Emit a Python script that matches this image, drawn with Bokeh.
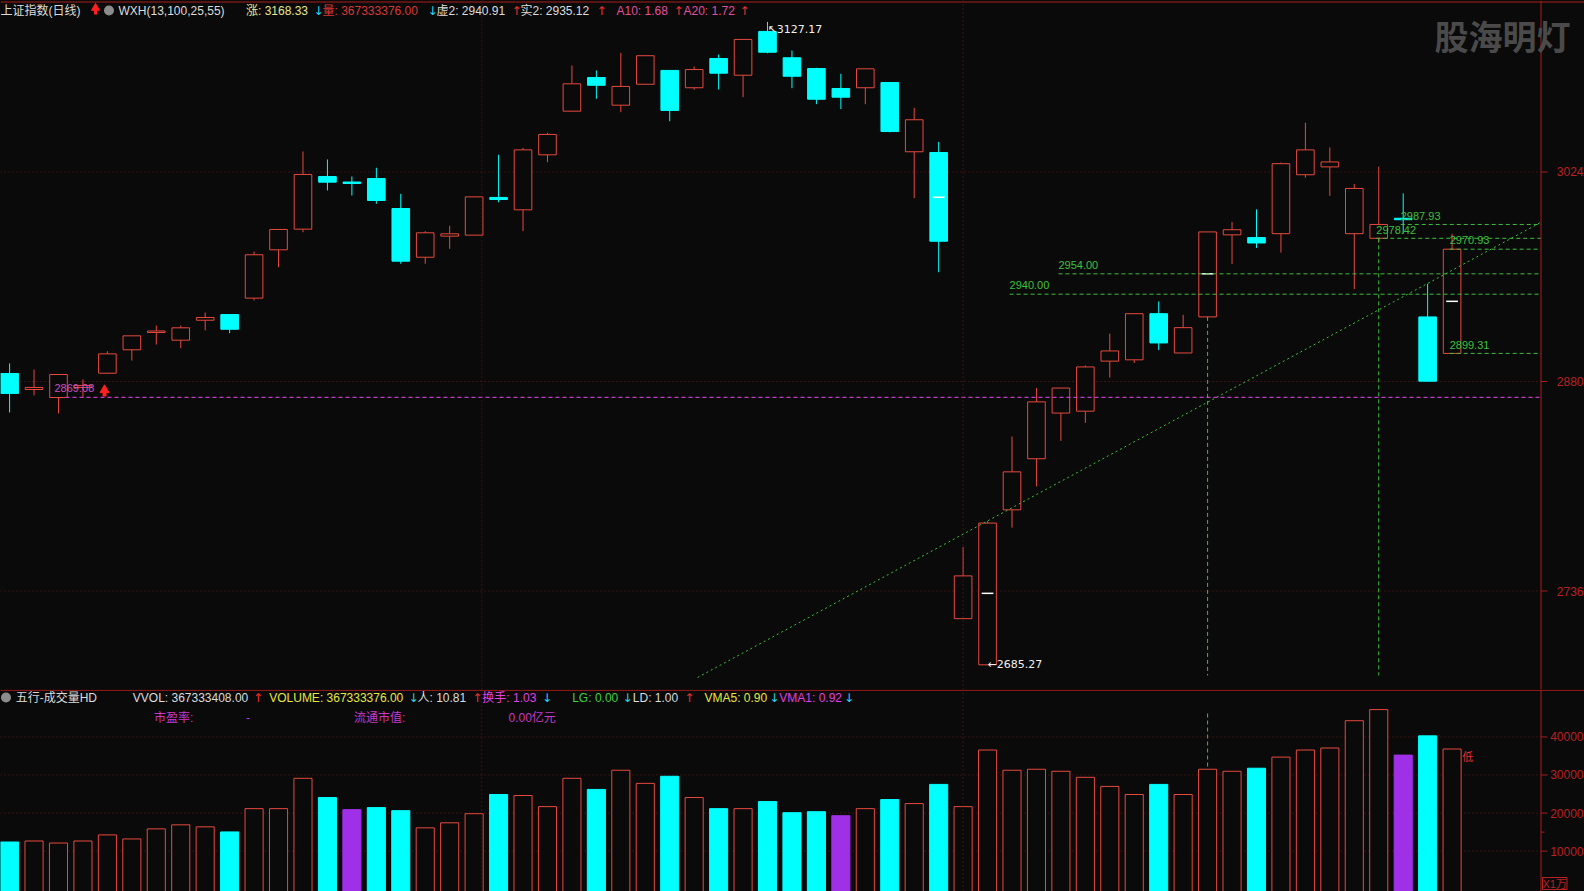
import numpy as np
from bokeh.plotting import figure
from bokeh.layouts import column
from bokeh.models import ColumnDataSource, Span, Label, Range1d
from bokeh.embed import file_html
from bokeh.resources import INLINE

# ---------------- data ----------------
opens = [2885.5, 2874.5, 2869.0, 2875.9, 2885.7, 2901.8, 2913.7, 2908.4, 2922.1, 2926.0,
         2937.3, 2970.5, 2984.7, 3020.9, 3016.8, 3019.5, 2998.9, 2965.4, 2979.9, 2980.6,
         3006.5, 2998.0, 3035.8, 3065.8, 3088.9, 3069.9, 3084.3, 3093.8, 3081.9, 3102.0,
         3090.5, 3120.6, 3102.5, 3095.1, 3081.4, 3081.9, 3085.5, 3037.9, 3037.4, 2717.0,
         2685.27, 2791.8, 2826.9, 2858.3, 2859.6, 2894.0, 2894.9, 2926.6, 2899.6, 2924.4,
         2980.8, 2978.9, 2981.6, 3022.1, 3027.5, 2981.6, 2978.42, 2991.7, 2924.4, 2899.31]
closes = [2871.8, 2875.9, 2884.8, 2877.3, 2899.0, 2911.4, 2914.4, 2916.9, 2924.0, 2915.9,
          2967.1, 2984.5, 3022.3, 3017.0, 3016.1, 3004.4, 2962.7, 2982.2, 2981.5, 3006.9,
          3005.1, 3039.2, 3049.8, 3084.6, 3083.6, 3082.8, 3103.9, 3066.3, 3094.4, 3091.9,
          3115.1, 3106.3, 3089.8, 3074.0, 3075.4, 3094.9, 3051.8, 3059.9, 2976.4, 2746.4,
          2782.7, 2817.9, 2866.0, 2875.5, 2890.0, 2901.0, 2926.6, 2906.5, 2917.0, 2982.8,
          2984.3, 2975.2, 3029.7, 3039.2, 3030.9, 3012.7, 2987.93, 2991.2, 2880.2, 2970.93]
highs = [2892.4, 2888.2, 2884.8, 2881.4, 2900.8, 2911.4, 2918.5, 2918.5, 2927.4, 2926.0,
         2969.3, 2984.5, 3038.1, 3032.6, 3020.9, 3026.9, 3009.0, 2983.3, 2987.0, 3006.9,
         3035.8, 3040.6, 3050.9, 3097.2, 3093.8, 3105.9, 3103.9, 3093.8, 3096.5, 3104.7,
         3115.1, 3127.17, 3107.5, 3095.6, 3091.5, 3094.9, 3085.5, 3068.1, 3044.7, 2766.3,
         2784.0, 2842.2, 2875.5, 2875.5, 2891.0, 2912.9, 2926.6, 2935.0, 2925.8, 2982.8,
         2989.7, 2998.3, 3030.5, 3057.9, 3040.8, 3015.7, 3027.7, 3009.3, 2947.2, 2981.5]
lows = [2858.7, 2870.4, 2858.0, 2869.08, 2885.3, 2894.4, 2905.4, 2902.9, 2915.1, 2913.2,
        2935.7, 2958.6, 2982.6, 3011.3, 3007.8, 3002.1, 2960.9, 2960.9, 2971.2, 2980.6,
        3003.2, 2983.3, 3030.7, 3065.8, 3074.3, 3065.1, 3084.3, 3058.9, 3080.5, 3080.7,
        3075.4, 3105.6, 3081.6, 3070.6, 3067.2, 3070.6, 3051.3, 3006.0, 2955.1, 2717.0,
        2685.27, 2779.6, 2808.0, 2839.2, 2851.5, 2882.7, 2892.7, 2901.6, 2899.6, 2924.4,
        2960.7, 2971.8, 2968.6, 3020.1, 3007.6, 2943.5, 2975.5, 2981.6, 2880.2, 2899.31]
volumes = [12400, 12660, 12130, 12660, 14260, 13200, 15850, 16910, 16380, 15050,
           21160, 21160, 29130, 24080, 20900, 21430, 20630, 16120, 17440, 19830,
           24880, 24610, 21690, 29130, 26210, 31250, 27800, 29660, 24080, 21160,
           21160, 23020, 20100, 20360, 19300, 21160, 23550, 22490, 27530, 21690,
           36560, 31250, 31510, 30980, 29390, 27000, 24880, 27530, 24880, 31510,
           30980, 31780, 34700, 36560, 37090, 44260, 47180, 35230, 40280, 36830]
purple_days = [14, 34, 57]
avg_tick_days = [38, 40, 49, 59]
avg_tick_vals = [3006.7, 2734.4, 2954.0, 2935.1]
levels = [2954.00, 2940.00, 2987.93, 2978.42, 2970.93, 2899.31]
level_start = [43, 41, 57, 56, 59, 59]
support_level = 2869.08
marked_days = [49, 56]
trend_x = [28.14, 62.62]
trend_y = [2676.6, 2989.3]
price_ticks = [2736, 2880, 3024]
vol_ticks = [10000, 20000, 30000, 40000]
vol_minor = [15000]

top_legend = [
    (0, "上证指数(日线)", "#dcdcdc"),
    (118, "WXH(13,100,25,55)", "#dcdcdc"),
    (245.5, "涨: 3168.33", "#e6e690"),
    (313, "↓", "#22d8f0"),
    (322, "量: 367333376.00", "#d83838"),
    (427, "↓", "#22d8f0"),
    (436, "虚2: 2940.91", "#dcdcdc"),
    (511, "↑", "#f03030"),
    (520, "实2: 2935.12", "#dcdcdc"),
    (596, "↑", "#f03030"),
    (616, "A10: 1.68", "#e0509a"),
    (673, "↑", "#f03030"),
    (683, "A20: 1.72", "#e0509a"),
    (739, "↑", "#f03030"),
]
vol_legend = [
    (15.2, "五行-成交量HD", "#dcdcdc"),
    (132.3, "VVOL: 367333408.00", "#dcdcdc"),
    (252.5, "↑", "#f03030"),
    (268.7, "VOLUME: 367333376.00", "#e6e640"),
    (408, "↓", "#22d8f0"),
    (417, "人: 10.81", "#dcdcdc"),
    (471.7, "↑", "#f03030"),
    (481.8, "换手: 1.03", "#e040e0"),
    (541.4, "↓", "#22d8f0"),
    (571.7, "LG: 0.00", "#40d040"),
    (622, "↓", "#22d8f0"),
    (632.3, "LD: 1.00", "#dcdcdc"),
    (683.8, "↑", "#f03030"),
    (704, "VMA5: 0.90", "#e6e640"),
    (768.7, "↓", "#22d8f0"),
    (778.8, "VMA1: 0.92", "#e040e0"),
    (843.4, "↓", "#22d8f0"),
]
vol_legend2 = [
    (153.5, "市盈率:", "#c838c8"),
    (245.5, "-", "#c838c8"),
    (353.5, "流通市值:", "#c838c8"),
    (508, "0.00亿元", "#c838c8"),
]

# ---------------- style / layout helpers ----------------
BG = "#0a0a0a"
RED = "#e64a3f"
CYAN = "#00ffff"
PURPLE = "#a030e8"
GREEN = "#3cc03c"
MAG = "#c238c8"
AX = "#a81c1c"
AXL = "#b82222"
GRID = "#6e1a1a"
FONT = "Liberation Sans, Noto Sans CJK SC"

W = 1584
H1, H2 = 689, 202
X0 = -0.372
PX = 1.0 / 24.449          # x units per reference pixel


def X(px):  # reference pixel -> x data
    return X0 + px * PX


def P(py):  # reference pixel -> price
    return 2880 + (381.0 - py) * 0.6873


def V(py):  # reference pixel -> volume
    return (888.7 - py) / 0.0038067


XA = X(1540.5)   # right axis position
XEND = X(W)

n = len(opens)
idx = np.arange(n)
o = np.array(opens); c = np.array(closes); h = np.array(highs); l = np.array(lows)
up = c >= o
top = np.maximum(o, c)
bot = np.minimum(o, c)
thin = (top - bot) < 1.0
top = np.where(thin, bot + 1.0, top)


def make_fig(height, yr):
    f = figure(width=W, height=height, x_range=Range1d(X0, XEND), y_range=yr,
               output_backend="svg", toolbar_location=None, x_axis_location=None,
               y_axis_location=None, background_fill_color=BG, border_fill_color=BG,
               min_border_left=0, min_border_right=0, min_border_top=0, min_border_bottom=0,
               outline_line_color=None)
    f.grid.visible = False
    return f


p1 = make_fig(H1, Range1d(P(H1), P(0)))
p2 = make_fig(H2, Range1d(V(H1 + H2), V(H1)))

# grids, axis line, ticks, tick labels (drawn by hand at the right edge)
for fig, ticks, minor in ((p1, price_ticks, []), (p2, vol_ticks, vol_minor)):
    tk = np.array(ticks, dtype=float)
    fig.segment(x0=[X0] * len(tk), y0=tk, x1=[XA] * len(tk), y1=tk, line_color=GRID,
                line_dash="1 3", line_width=1)
    fig.segment(x0=[XA] * len(tk), y0=tk, x1=[X(1547)] * len(tk), y1=tk, line_color=AX,
                line_width=1)
    if minor:
        fig.segment(x0=[XA] * len(minor), y0=minor, x1=[X(1544)] * len(minor), y1=minor,
                    line_color=AX, line_width=1)
    for t in ticks:
        fig.add_layout(Label(x=X(1583), y=t, text=f"{t:d}", text_color=AXL,
                             text_font="Liberation Sans", text_font_size="12px",
                             text_align="right", text_baseline="middle"))
    for gx in (481.3, 962.6):
        fig.add_layout(Span(location=X(gx), dimension="height", line_color=GRID,
                            line_dash="1 3", line_width=1))
    fig.add_layout(Span(location=XA, dimension="height", line_color=AX, line_width=1))

# borders
p1.add_layout(Span(location=P(1.5), dimension="width", line_color=AX, line_width=1))
p2.add_layout(Span(location=V(H1 + 0.8), dimension="width", line_color=AX, line_width=1))

# ---------------- candles ----------------
su = ColumnDataSource(dict(x=idx[up], top=top[up], bottom=bot[up], high=h[up], low=l[up]))
sd = ColumnDataSource(dict(x=idx[~up], top=top[~up], bottom=bot[~up], high=h[~up], low=l[~up]))
p1.segment(x0="x", y0="high", x1="x", y1="top", source=su, line_color=RED, line_width=1)
p1.segment(x0="x", y0="bottom", x1="x", y1="low", source=su, line_color=RED, line_width=1)
p1.vbar(x="x", width=0.72, top="top", bottom="bottom", source=su, fill_color=BG,
        line_color=RED, line_width=1)
p1.segment(x0="x", y0="high", x1="x", y1="low", source=sd, line_color=CYAN, line_width=1)
p1.vbar(x="x", width=0.72, top="top", bottom="bottom", source=sd, fill_color=CYAN,
        line_color=CYAN, line_width=1)

# average ticks
ta = np.array(avg_tick_days)
p1.segment(x0=ta - 0.24, y0=avg_tick_vals, x1=ta + 0.24, y1=avg_tick_vals,
           line_color="#ffffff", line_width=1.5)

# support line (magenta)
p1.segment(x0=[X(65)], y0=[support_level], x1=[XA], y1=[support_level],
           line_color=MAG, line_dash="4 3", line_width=1.3)
p1.add_layout(Label(x=X(54), y=support_level + 6.2, text=f"{support_level:.2f}",
                    text_color="#c850c8", text_font=FONT, text_font_size="11px",
                    text_baseline="middle"))
# red arrow icon near support
p1.scatter(x=[X(104)], y=[P(389.5)], marker="triangle", size=9, fill_color="#ff2020",
           line_color="#ff2020")
p1.segment(x0=[X(104)], y0=[P(391)], x1=[X(104)], y1=[P(396)], line_color="#ff2020",
           line_width=4)

# green levels
for lv, st in zip(levels, level_start):
    p1.segment(x0=[st - 0.1], y0=[lv], x1=[XA], y1=[lv], line_color=GREEN,
               line_dash="4 3", line_width=1)
    p1.add_layout(Label(x=st - 0.1, y=lv + 6.0, text=f"{lv:.2f}", text_color=GREEN,
                        text_font=FONT, text_font_size="11px", text_baseline="middle"))

# vertical marker lines
md = np.array(marked_days)
p1.segment(x0=md, y0=bot[md], x1=md, y1=[P(675)] * len(md), line_color=GREEN,
           line_dash="4 3", line_width=1)
p2.segment(x0=md[:1], y0=[V(713)], x1=md[:1], y1=[V(768)], line_color=GREEN,
           line_dash="4 3", line_width=1)

# trend line
p1.line(trend_x, trend_y, line_color=GREEN, line_dash="2 3", line_width=1)

# extreme annotations
imax = int(np.argmax(h)); imin = int(np.argmin(l))
p1.add_layout(Label(x=imax, y=h[imax], text=f"↖{h[imax]:.2f}", text_color="#f0f0f0",
                    text_font="DejaVu Sans", text_font_size="11px",
                    text_baseline="top", y_offset=-1))
p1.add_layout(Label(x=imin, y=l[imin], text=f"←{l[imin]:.2f}", text_color="#f0f0f0",
                    text_font="DejaVu Sans", text_font_size="11px",
                    text_baseline="middle"))

# ---------------- volume ----------------
vcol = [PURPLE if i in purple_days else (RED if up[i] else CYAN) for i in range(n)]
vfill = [PURPLE if i in purple_days else (BG if up[i] else CYAN) for i in range(n)]
sv = ColumnDataSource(dict(x=idx, top=volumes, lc=vcol, fc=vfill))
p2.vbar(x="x", width=0.74, top="top", bottom=V(900), source=sv, fill_color="fc",
        line_color="lc", line_width=1)
# small marker text beside the last volume bar
p2.add_layout(Label(x=n - 1 + 0.42, y=volumes[-1], text="低", text_color="#e03030",
                    text_font=FONT, text_font_size="11px", text_baseline="top",
                    y_offset=-2))


# ---------------- legends ----------------
def put(fig, xp, y, text, color, size="12px"):
    font = "DejaVu Sans" if text in ("↑", "↓") else FONT
    fig.add_layout(Label(x=X(xp), y=y, text=text, text_color=color, text_font=font,
                         text_font_size=size, text_baseline="middle"))


for xp, t, col in top_legend:
    put(p1, xp, P(10), t, col)
for xp, t, col in vol_legend:
    put(p2, xp, V(697), t, col)
for xp, t, col in vol_legend2:
    put(p2, xp, V(717), t, col)

# icons
p1.scatter(x=[X(95)], y=[P(7.5)], marker="triangle", size=8, fill_color="#ff2020",
           line_color="#ff2020")
p1.segment(x0=[X(95)], y0=[P(9)], x1=[X(95)], y1=[P(14)], line_color="#ff2020", line_width=3)
p1.scatter(x=[X(108.5)], y=[P(10)], marker="circle", size=10, fill_color="#8c8c8c",
           line_color=None)
p2.scatter(x=[X(5.5)], y=[V(697)], marker="circle", size=10, fill_color="#8c8c8c",
           line_color=None)

# watermark
p1.add_layout(Label(x=X(1434), y=P(35), text="股海明灯", text_color="#4a4a4a",
                    text_font="Noto Sans CJK SC", text_font_style="bold",
                    text_font_size="34px", text_baseline="middle"))

# unit box
p2.add_layout(Label(x=X(1542), y=V(883), text="X1万", text_color=AXL,
                    text_font=FONT, text_font_size="11px", text_baseline="middle",
                    border_line_color=AXL))

layout = column(p1, p2, spacing=0)
html = file_html(layout, INLINE)
html = html.replace("<head>", "<head><style>html,body{background:#0a0a0a;}</style>", 1)
open("out.html", "w").write(html)
